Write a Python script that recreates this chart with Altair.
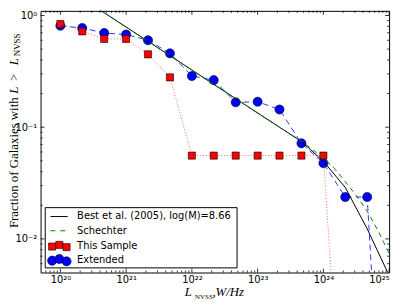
import altair as alt
import pandas as pd

# ---------------- data ----------------
lum = [1.0e20, 2.15e20, 4.64e20, 1.0e21, 2.15e21, 4.64e21, 1.0e22, 2.15e22,
       4.64e22, 1.0e23, 2.15e23, 4.64e23, 1.0e24, 2.15e24, 4.64e24, 1.0e25]
this_sample = [0.837, 0.721, 0.617, 0.617, 0.449, 0.279, 0.0557, 0.0557,
               0.0557, 0.0557, 0.0557, 0.0557, 0.0557, 6e-5]
extended = [0.810, 0.772, 0.697, 0.675, 0.601, 0.458, 0.287, 0.264, 0.167,
            0.169, 0.144, 0.0717, 0.0477, 0.0237, 0.0237, 1e-5]
best = [1.91, 1.42, 1.058, 0.788, 0.587, 0.437, 0.325, 0.242, 0.180, 0.134,
        0.100, 0.0744, 0.0495, 0.0289, 0.0123, 0.0047]
sch_lum = [1.0e20, 2.15e20, 4.64e20, 1.0e21, 2.15e21, 4.64e21, 1.0e22, 2.15e22,
           4.64e22, 1.0e23, 2.15e23, 4.64e23, 1.0e24, 1.48e24, 2.15e24,
           3.16e24, 4.64e24, 6.81e24, 1.0e25]
schechter = [1.91, 1.42, 1.058, 0.788, 0.587, 0.437, 0.325, 0.242, 0.180,
             0.134, 0.100, 0.0748, 0.0531, 0.0425, 0.0326, 0.0245, 0.0177,
             0.0118, 0.0074]

legend_labels = ["Best et al. (2005), log(M)=8.66", "Schechter",
                 "This Sample", "Extended"]

x_major = [1e20, 1e21, 1e22, 1e23, 1e24, 1e25]
x_labels = ["10²⁰", "10²¹", "10²²", "10²³", "10²⁴", "10²⁵"]
x_minor = [m * 10.0 ** e for e in range(19, 25) for m in range(2, 10)
           if 5e19 < m * 10.0 ** e < 1e25]
y_major = [0.01, 0.1, 1.0]
y_labels = ["10⁻²", "10⁻¹", "10⁰"]
y_minor = [m * 10.0 ** e for e in (-3, -2, -1) for m in range(2, 10)
           if m * 10.0 ** e > 0.005]

# ---------------- layout ----------------
W, H = 353, 265
xscale = alt.Scale(type="log", domain=[5e19, 1e25], nice=False)
yscale = alt.Scale(type="log", domain=[0.005, 1.1], nice=False)

x_expr = "[" + ",".join(f"'{s}'" for s in x_labels) + "][round(log(datum.value)/LN10)-20]"
y_expr = "[" + ",".join(f"'{s}'" for s in y_labels) + "][round(log(datum.value)/LN10)+2]"

xaxis = alt.Axis(title=None, values=x_major, labelExpr=x_expr, ticks=False,
                 domain=False, grid=False, labelFont="DejaVu Sans",
                 labelFontSize=10, labelColor="black", labelPadding=2)
yaxis = alt.Axis(title=None, values=y_major, labelExpr=y_expr, ticks=False,
                 domain=False, grid=False, labelFont="DejaVu Sans",
                 labelFontSize=10, labelColor="black", labelPadding=4)


def X(f):
    return alt.X(f, type="quantitative", scale=xscale, axis=xaxis)


def Y(f):
    return alt.Y(f, type="quantitative", scale=yscale, axis=yaxis)


df_red = pd.DataFrame({"L": lum[:len(this_sample)], "f": this_sample})
df_blue = pd.DataFrame({"L": lum[:len(extended)], "f": extended})
df_best = pd.DataFrame({"L": lum, "f": best})
df_sch = pd.DataFrame({"L": sch_lum, "f": schechter})

layers = []

# ticks (inward, all four sides)
for vals, ln in ((x_major, 4), (x_minor, 2)):
    d = pd.DataFrame({"v": vals})
    layers.append(alt.Chart(d).mark_rule(color="black", strokeWidth=0.8).encode(
        x=X("v"), y=alt.value(H), y2=alt.value(H - ln)))
    layers.append(alt.Chart(d).mark_rule(color="black", strokeWidth=0.8).encode(
        x=X("v"), y=alt.value(0), y2=alt.value(ln)))
for vals, ln in ((y_major, 4), (y_minor, 2)):
    d = pd.DataFrame({"v": vals})
    layers.append(alt.Chart(d).mark_rule(color="black", strokeWidth=0.8).encode(
        y=Y("v"), x=alt.value(0), x2=alt.value(ln)))
    layers.append(alt.Chart(d).mark_rule(color="black", strokeWidth=0.8).encode(
        y=Y("v"), x=alt.value(W), x2=alt.value(W - ln)))

# markers
layers.append(alt.Chart(df_blue).mark_point(
    shape="circle", filled=True, fill="#0000ff", stroke="black",
    strokeWidth=0.6, size=85, opacity=1, clip=True).encode(x=X("L"), y=Y("f")))
layers.append(alt.Chart(df_red).mark_point(
    shape="square", filled=True, fill="#ff0000", stroke="black",
    strokeWidth=0.6, size=52, opacity=1, clip=True).encode(x=X("L"), y=Y("f")))

# lines
layers.append(alt.Chart(df_blue).mark_line(
    color="#0000ff", strokeWidth=1, strokeDash=[6, 4], opacity=0.8, clip=True
).encode(x=X("L"), y=Y("f")))
layers.append(alt.Chart(df_red).mark_line(
    color="#ff0000", strokeWidth=1, strokeDash=[1, 2], opacity=0.6, clip=True
).encode(x=X("L"), y=Y("f")))
layers.append(alt.Chart(df_best).mark_line(
    color="black", strokeWidth=1, clip=True).encode(x=X("L"), y=Y("f")))
layers.append(alt.Chart(df_sch).mark_line(
    color="#008000", strokeWidth=1, strokeDash=[5, 4], clip=True
).encode(x=X("L"), y=Y("f")))

# legend (drawn as decoration inside the axes)
one = pd.DataFrame({"a": [0]})
layers.append(alt.Chart(one).mark_rect(fill="white", stroke="black",
                                       strokeWidth=1).encode(
    x=alt.value(4.7), x2=alt.value(199), y=alt.value(199.3), y2=alt.value(260.3)))
layers.append(alt.Chart(one).mark_rule(color="black", strokeWidth=1).encode(
    x=alt.value(10), x2=alt.value(27.5), y=alt.value(208.3)))
layers.append(alt.Chart(one).mark_rule(color="#008000", strokeWidth=1,
                                       strokeDash=[5, 5]).encode(
    x=alt.value(10), x2=alt.value(27.5), y=alt.value(222.7)))
for px, py in ((11.7, 238.7), (19, 237.0), (26.3, 239.3)):
    layers.append(alt.Chart(one).mark_point(
        shape="square", filled=True, fill="#ff0000", stroke="black",
        strokeWidth=0.6, size=52, opacity=1).encode(x=alt.value(px), y=alt.value(py)))
for px, py in ((11.7, 253.0), (19, 251.3), (26.3, 253.7)):
    layers.append(alt.Chart(one).mark_point(
        shape="circle", filled=True, fill="#0000ff", stroke="black",
        strokeWidth=0.6, size=85, opacity=1).encode(x=alt.value(px), y=alt.value(py)))
for lab, py in zip(legend_labels, (208.3, 222.7, 237.7, 252.0)):
    layers.append(alt.Chart(one).mark_text(
        align="left", baseline="middle", font="DejaVu Sans", fontSize=10,
        color="black").encode(x=alt.value(37), y=alt.value(py), text=alt.value(lab)))

# axis titles (composed text, serif with math-style pieces)
def txt(s, x, y, size, style="normal", angle=0):
    return alt.Chart(one).mark_text(
        align="left", baseline="alphabetic", font="Liberation Serif",
        fontSize=size, fontStyle=style, angle=angle, color="black").encode(
        x=alt.value(x), y=alt.value(y), text=alt.value(s))

YT = -23
layers += [
    txt("L", 146, 289, 13, "italic"),
    txt("NVSS", 156.5, 292, 7),
    txt(",W/Hz", 174, 289, 13, "italic"),
    txt("Fraction of Galaxies with", YT, 220, 13, angle=270),
    txt("L", YT, 84, 13, "italic", angle=270),
    txt(">", YT, 71, 13, angle=270),
    txt("L", YT, 55, 13, "italic", angle=270),
    txt("NVSS", YT + 2.5, 46, 9, angle=270),
]

chart = alt.layer(*layers).properties(
    width=W, height=H,
    autosize=alt.AutoSizeParams(type="none"),
    padding={"left": 33, "top": 1, "right": 10, "bottom": 31},
    background="white",
).configure_view(stroke="black", strokeWidth=1)

chart.save("out.html", embed_options={"renderer": "svg", "actions": False})
